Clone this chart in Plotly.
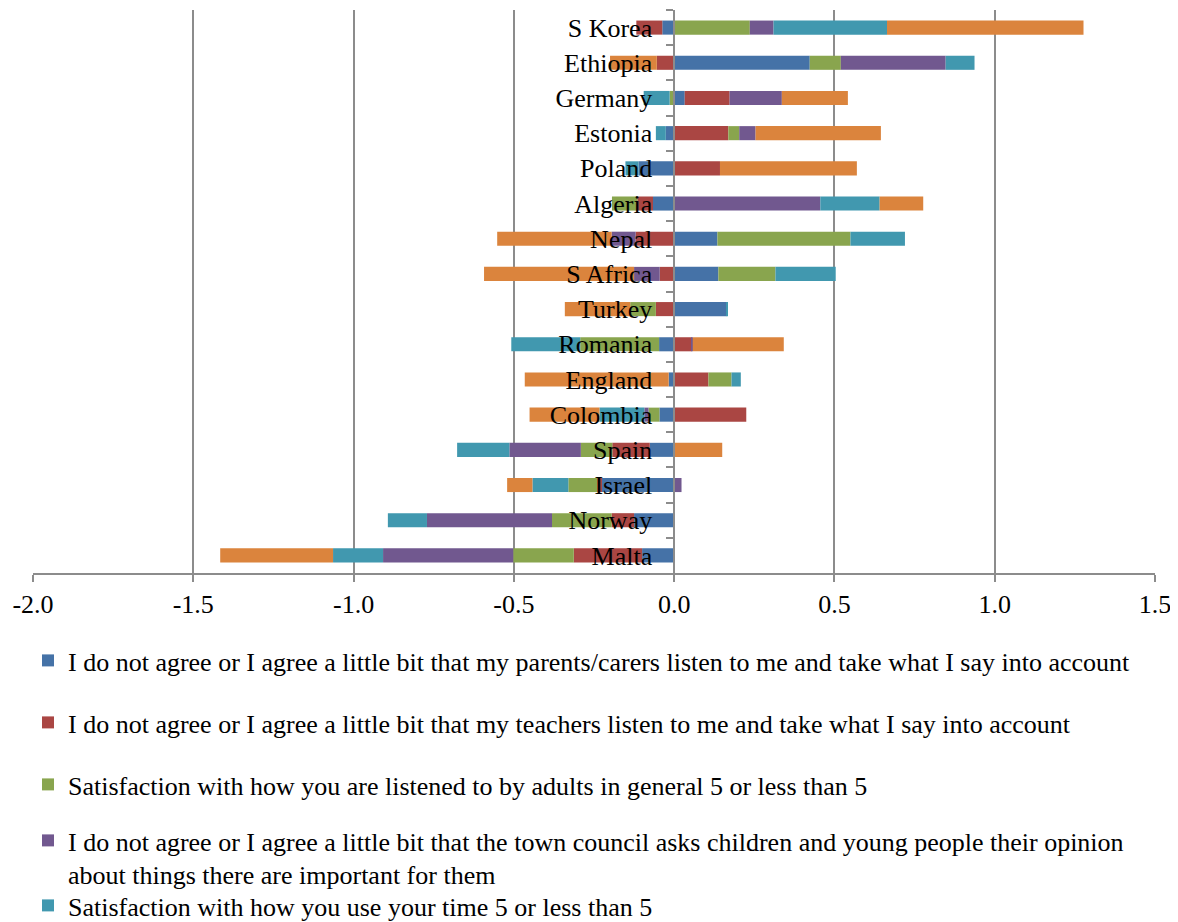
import plotly.graph_objects as go

countries = ["S Korea", "Ethiopia", "Germany", "Estonia", "Poland", "Algeria", "Nepal",
             "S Africa", "Turkey", "Romania", "England", "Colombia", "Spain", "Israel",
             "Norway", "Malta"]

parents = [-0.037, 0.423, 0.033, -0.026, -0.111, -0.066, 0.135, 0.138, 0.163, -0.047,
           -0.017, -0.046, -0.076, -0.225, -0.125, -0.100]
teachers = [-0.081, -0.054, 0.140, 0.169, 0.143, -0.049, -0.120, -0.045, -0.057, 0.055,
            0.107, 0.225, -0.117, -0.015, -0.070, -0.213]
adults = [0.236, 0.097, -0.014, 0.034, 0.0, -0.079, 0.415, 0.178, -0.080, -0.246,
          0.072, -0.034, -0.098, -0.090, -0.186, -0.189]
council = [0.074, 0.327, 0.163, 0.051, 0.0, 0.456, -0.075, -0.080, 0.0, 0.003,
           0.0, -0.013, -0.223, 0.023, -0.390, -0.406]
time_use = [0.354, 0.090, -0.081, -0.031, -0.041, 0.185, 0.170, 0.188, 0.005, -0.215,
            0.029, -0.140, -0.163, -0.112, -0.122, -0.156]
sixth = [0.613, -0.146, 0.206, 0.391, 0.427, 0.136, -0.357, -0.468, -0.204, 0.284,
         -0.449, -0.218, 0.150, -0.079, 0.0, -0.352]

x_tickvals = [-2.0, -1.5, -1.0, -0.5, 0.0, 0.5, 1.0, 1.5]
x_ticktext = ["-2.0", "-1.5", "-1.0", "-0.5", "0.0", "0.5", "1.0", "1.5"]

series_names = [
    "I do not agree or I agree a little bit that my parents/carers listen to me and take what I say into account",
    "I do not agree or I agree a little bit that my teachers listen to me and take what I say into account",
    "Satisfaction with how you are listened to by adults in general 5 or less than 5",
    "I do not agree or I agree a little bit that the town council asks children and young people their opinion<br>about things there are important for them",
    "Satisfaction with how you use your time 5 or less than 5",
    "Series 6",
]
series_values = [parents, teachers, adults, council, time_use, sixth]
colors = ["#4572A7", "#AA4643", "#89A54E", "#71588F", "#4198AF", "#DB843D"]

FONT = "Liberation Serif, Times New Roman, serif"
FS = 26
LFS = 26
# the page body adds an 8px offset, so the figure is 8px smaller than the window
W, H = 1170, 914
L, R, T, B = 25, 23, 2, 349
plot_h = H - T - B
plot_w = W - L - R
OFF = 8


def py(ypage):
    return (H - B - (ypage - OFF)) / plot_h


def px(xpage):
    return ((xpage - OFF) - L) / plot_w


legend_y = [663, 725, 787, 843, 908]
legend_keys = ["legend", "legend2", "legend3", "legend4", "legend5"]

fig = go.Figure()
for i, (name, vals, col) in enumerate(zip(series_names, series_values, colors)):
    kw = {}
    if i < 5:
        kw["legend"] = legend_keys[i]
        kw["showlegend"] = True
    else:
        kw["showlegend"] = False
    fig.add_trace(go.Bar(
        y=countries, x=vals, orientation="h", name=name,
        marker=dict(color=col, line=dict(width=0)),
        **kw,
    ))

layout_legends = {}
for i, key in enumerate(legend_keys):
    layout_legends[key] = dict(
        x=px(28), xanchor="left",
        y=py(legend_y[i]) + 26 / plot_h, yanchor="top",
        font=dict(family=FONT, size=LFS, color="black"),
        bgcolor="rgba(0,0,0,0)", borderwidth=0,
        valign="top", itemclick=False,
    )

fig.update_layout(
    width=W, height=H,
    margin=dict(l=L, r=R, t=T, b=B, autoexpand=False),
    barmode="relative", bargap=0.6,
    plot_bgcolor="white", paper_bgcolor="white",
    font=dict(family=FONT, size=FS, color="black"),
    xaxis=dict(
        range=[-2, 1.5], tickmode="array", tickvals=x_tickvals, ticktext=x_ticktext,
        showgrid=True, gridcolor="#8C8C8C", gridwidth=1.5,
        zeroline=False, showline=True, linecolor="#8C8C8C", linewidth=1.5,
        ticks="outside", ticklen=7, tickcolor="#8C8C8C", tickwidth=1.5,
        tickfont=dict(family=FONT, size=FS, color="black"),
        fixedrange=True,
    ),
    yaxis=dict(
        type="category", autorange="reversed",
        anchor="free", position=2 / 3.5,
        showgrid=False, zeroline=False,
        showline=True, linecolor="#8C8C8C", linewidth=1.5,
        ticks="outside", ticklen=7, tickcolor="#8C8C8C", tickwidth=1.5,
        tickson="boundaries", ticklabelstandoff=16,
        tickfont=dict(family=FONT, size=FS, color="black"),
        layer="above traces",
        fixedrange=True,
    ),
    **layout_legends,
)

fig.write_html("out.html")
